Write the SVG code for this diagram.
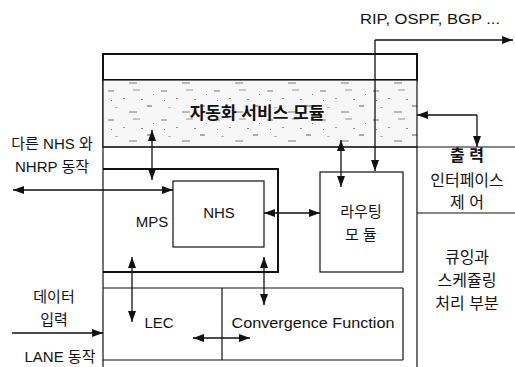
<svg xmlns="http://www.w3.org/2000/svg" width="515" height="367" viewBox="0 0 515 367">
<style>
.t{font-family:"Liberation Sans","Noto Sans CJK KR",sans-serif;font-size:15px;fill:#111;text-anchor:middle}
.k{font-family:"Liberation Sans","Noto Sans CJK KR",sans-serif;font-size:15px;fill:#111;text-anchor:middle}
.r{font-size:16px}
.b{font-weight:bold}
.ln{stroke:#111;stroke-width:1.2;fill:none}
.th{stroke:#111;stroke-width:2;fill:none}
.ar{stroke:#111;stroke-width:1.3;fill:none;marker-end:url(#ah)}
.da{stroke:#111;stroke-width:1.3;fill:none;marker-start:url(#ah);marker-end:url(#ah)}
</style>
<defs>
<marker id="ah" markerUnits="userSpaceOnUse" markerWidth="11" markerHeight="8" refX="11" refY="4" orient="auto-start-reverse">
<path d="M0,0 L11,4 L0,8 z" fill="#111"/>
</marker>
<pattern id="speck" width="53" height="29" patternUnits="userSpaceOnUse">
<rect width="53" height="29" fill="#f7f7f7"/>
<rect x="2" y="3" width="6" height="2" fill="#b5b5b5"/>
<rect x="17" y="11" width="2" height="1" fill="#999"/>
<rect x="27" y="2" width="7" height="2" fill="#c5c5c5"/>
<rect x="41" y="18" width="5" height="2" fill="#aaa"/>
<rect x="9" y="20" width="3" height="1" fill="#bbb"/>
<rect x="23" y="24" width="8" height="2" fill="#b8b8b8"/>
<rect x="47" y="7" width="1" height="1" fill="#777"/>
<rect x="5" y="13" width="1" height="1" fill="#777"/>
<rect x="35" y="12" width="2" height="1" fill="#888"/>
</pattern>
</defs>

<g id="frame">
<line class="ln" x1="103" y1="54" x2="103" y2="367"/>
<line class="ln" x1="417" y1="147" x2="417" y2="367"/>
</g>

<g id="topbox">
<rect class="th" x="103" y="54" width="314" height="26" stroke-width="1.5"/>
</g>

<g id="service">
<rect x="103" y="80" width="314" height="67" fill="url(#speck)" stroke="#111" stroke-width="1.2"/>
<text class="k b" x="257" y="119" style="font-size:17px">자동화 서비스 모듈</text>
</g>

<g id="output-if">
<line class="ln" x1="103" y1="147" x2="515" y2="147"/>
<line class="ln" x1="417" y1="213" x2="515" y2="213"/>
<text class="k r b" x="467" y="161">출 력</text>
<text class="k r" x="467" y="186">인터페이스</text>
<text class="k r" x="467" y="208">제 어</text>
</g>

<g id="queue">
<text class="k r" x="467" y="263">큐잉과</text>
<text class="k r" x="467" y="286">스케쥴링</text>
<text class="k r" x="467" y="309">처리 부분</text>
</g>

<g id="mps">
<path class="th" d="M103,169 H278 V272 H103"/>
<text class="t" x="152" y="227">MPS</text>
</g>

<g id="nhs">
<rect class="ln" x="173" y="181" width="91" height="66"/>
<text class="t" x="219" y="218">NHS</text>
</g>

<g id="routing">
<rect class="ln" x="320" y="172" width="83" height="100"/>
<text class="k" x="361" y="217">라우팅</text>
<text class="k" x="361" y="240">모 듈</text>
</g>

<g id="lec">
<line class="ln" x1="103" y1="288" x2="403" y2="288"/>
<line class="ln" x1="103" y1="360" x2="403" y2="360"/>
<text class="t" x="159" y="328">LEC</text>
</g>

<g id="convergence">
<path class="ln" d="M222,288 V360 M403,288 V360"/>
<text class="t" x="313" y="328" textLength="163" lengthAdjust="spacingAndGlyphs">Convergence Function</text>
</g>

<g id="labels">
<text class="t" x="430" y="24" textLength="140" lengthAdjust="spacingAndGlyphs">RIP, OSPF, BGP ...</text>
<text class="k" x="52" y="149">다른 NHS 와</text>
<text class="k" x="52" y="172">NHRP 동작</text>
<text class="k" x="54" y="302">데이터</text>
<text class="k" x="54" y="325">입력</text>
<text class="k" x="60" y="362">LANE 동작</text>
</g>

<g id="connectors">
<path class="ar" d="M375,40 H513"/>
<path class="ar" d="M375,40 V171"/>
<path class="ar" d="M477,115 H417"/>
<path class="ar" d="M477,115 V147"/>
<path class="da" d="M152,130 V180"/>
<path class="da" d="M341,140 V187"/>
<path class="da" d="M13,190 H173"/>
<path class="da" d="M264,213 H320"/>
<path class="da" d="M132,257 V322"/>
<path class="da" d="M264,257 V305"/>
<path class="da" d="M193,338 H250"/>
<path class="ar" d="M12,333 H103"/>
</g>
</svg>
